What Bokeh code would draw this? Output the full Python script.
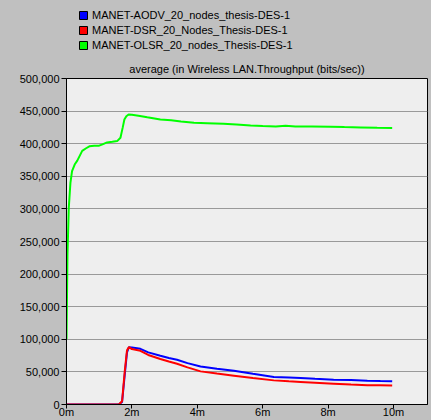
from bokeh.plotting import figure
from bokeh.layouts import column
from bokeh.models import (Legend, LegendItem, FixedTicker,
                          NumeralTickFormatter, Range1d)
from bokeh.embed import file_html
from bokeh.resources import INLINE

# Simulation time (minutes) and average WLAN throughput (bits/sec)
olsr_t = [0, 0.03, 0.07, 0.12, 0.17, 0.25, 0.33, 0.48, 0.6, 0.7, 0.85, 1.0, 1.1,
          1.24, 1.4, 1.55, 1.65, 1.72, 1.77, 1.83, 1.9, 2.0, 2.2, 2.47, 2.87, 3.2,
          3.5, 3.9, 4.3, 4.8, 5.2, 5.63, 6.0, 6.4, 6.7, 7.0, 7.5, 8.07, 8.5, 9.0,
          9.5, 9.96]
olsr_v = [100000, 230000, 302000, 340000, 358000, 368000, 374000, 389000, 393000,
          396000, 397000, 397000, 399000, 402000, 403000, 404000, 409000, 425000,
          437000, 442000, 444700, 444500, 443000, 440500, 437000, 436000, 434000,
          432000, 431500, 430500, 429500, 428000, 427000, 426500, 427500, 426500,
          426500, 426000, 425500, 425000, 424500, 424200]

aodv_t = [0, 1.0, 1.6, 1.7, 1.78, 1.85, 1.91, 2.0, 2.26, 2.5, 2.87, 3.13, 3.38,
          3.7, 4.1, 4.6, 5.12, 5.7, 6.34, 6.8, 7.16, 7.6, 8.17, 8.7, 9.2, 9.6, 9.96]
aodv_v = [0, 0, 0, 4000, 45000, 80000, 88000, 87500, 85400, 80000, 74700, 71200,
          68600, 63500, 58400, 55000, 51800, 47000, 42200, 41500, 40700, 39500,
          38100, 37500, 36600, 36000, 35500]

dsr_t = [0, 1.0, 1.6, 1.7, 1.78, 1.85, 1.91, 2.0, 2.26, 2.5, 2.87, 3.13, 3.38,
         3.7, 4.1, 4.6, 5.12, 5.7, 6.34, 6.8, 7.16, 7.6, 8.17, 8.7, 9.2, 9.6, 9.96]
dsr_v = [0, 0, 0, 5000, 50000, 83000, 88000, 85000, 82300, 76000, 69700, 66000,
         62500, 57000, 50800, 47500, 44200, 40500, 37000, 35500, 34600, 33500,
         32000, 30500, 29400, 29500, 29000]

series_names = ["MANET-AODV_20_nodes_thesis-DES-1",
                "MANET-DSR_20_Nodes_Thesis-DES-1",
                "MANET-OLSR_20_nodes_Thesis-DES-1"]
series_colors = ["#0000ff", "#ff0000", "#00ff00"]
x_ticks = [0, 2, 4, 6, 8, 10]
x_tick_labels = ["0m", "2m", "4m", "6m", "8m", "10m"]
y_ticks = [0, 50000, 100000, 150000, 200000, 250000, 300000, 350000, 400000,
           450000, 500000]

FONT = "Liberation Sans"
BG = "#c0c0c0"
LEGEND_H = 57

# --- legend strip on top -------------------------------------------------
leg = figure(width=431, height=LEGEND_H, output_backend="svg",
             toolbar_location=None, x_axis_location=None, y_axis_location=None,
             x_range=Range1d(0, 1), y_range=Range1d(0, 1),
             min_border=0)
leg.background_fill_color = BG
leg.border_fill_color = BG
leg.outline_line_color = None
leg.grid.visible = False

items = []
for name, c in zip(series_names, series_colors):
    # swatch renderers parked outside the visible range
    r = leg.quad(left=[-10], right=[-9], bottom=[-10], top=[-9],
                 fill_color=c, line_color="#000000", line_width=1)
    items.append(LegendItem(label=name, renderers=[r]))

# the column aligns this frame with the chart's frame (66 px from the left)
legend = Legend(items=items, orientation="vertical", location=(12, 6),
                border_line_color=None, background_fill_alpha=0,
                label_text_font=FONT, label_text_font_size="11px",
                label_text_color="#000000",
                glyph_width=10, glyph_height=10, label_height=13, spacing=2,
                padding=0, margin=0, label_standoff=4)
leg.add_layout(legend, "center")

# --- throughput chart ----------------------------------------------------
p = figure(width=431, height=420 - LEGEND_H, output_backend="svg",
           toolbar_location=None,
           x_range=Range1d(0, 11.04), y_range=Range1d(0, 500000),
           min_border_left=66, min_border_right=4, min_border_top=77 - LEGEND_H,
           min_border_bottom=15)
p.background_fill_color = "#eeeeee"
p.border_fill_color = BG
p.outline_line_color = "#000000"

p.title.text = "average (in Wireless LAN.Throughput (bits/sec))"
p.title.align = "center"
p.title.text_font = FONT
p.title.text_font_size = "11px"
p.title.text_font_style = "normal"
p.title.text_color = "#000000"
p.title.standoff = 7

p.xgrid.visible = False
p.ygrid.ticker = FixedTicker(ticks=y_ticks)
p.ygrid.grid_line_color = "#999999"
p.ygrid.grid_line_width = 1

for ax in (p.xaxis[0], p.yaxis[0]):
    ax.axis_line_color = "#000000"
    ax.major_tick_line_color = "#000000"
    ax.major_tick_out = 5
    ax.major_tick_in = 0
    ax.minor_tick_line_color = None
    ax.major_label_text_font = FONT
    ax.major_label_text_font_size = "11px"
    ax.major_label_text_color = "#000000"
    ax.major_label_standoff = 2
p.xaxis.major_tick_out = 4
p.xaxis.major_label_standoff = -3

p.xaxis.ticker = FixedTicker(ticks=x_ticks)
p.xaxis.major_label_overrides = {t: s for t, s in zip(x_ticks, x_tick_labels)}
p.yaxis.ticker = FixedTicker(ticks=y_ticks)
p.yaxis.formatter = NumeralTickFormatter(format="0,0")

data = [(aodv_t, aodv_v), (dsr_t, dsr_v), (olsr_t, olsr_v)]
for (t, v), c in zip(data, series_colors):
    p.line(t, v, line_color=c, line_width=2)

layout = column(leg, p, spacing=0)
layout.background = BG

open("out.html", "w").write(file_html(layout, INLINE))
